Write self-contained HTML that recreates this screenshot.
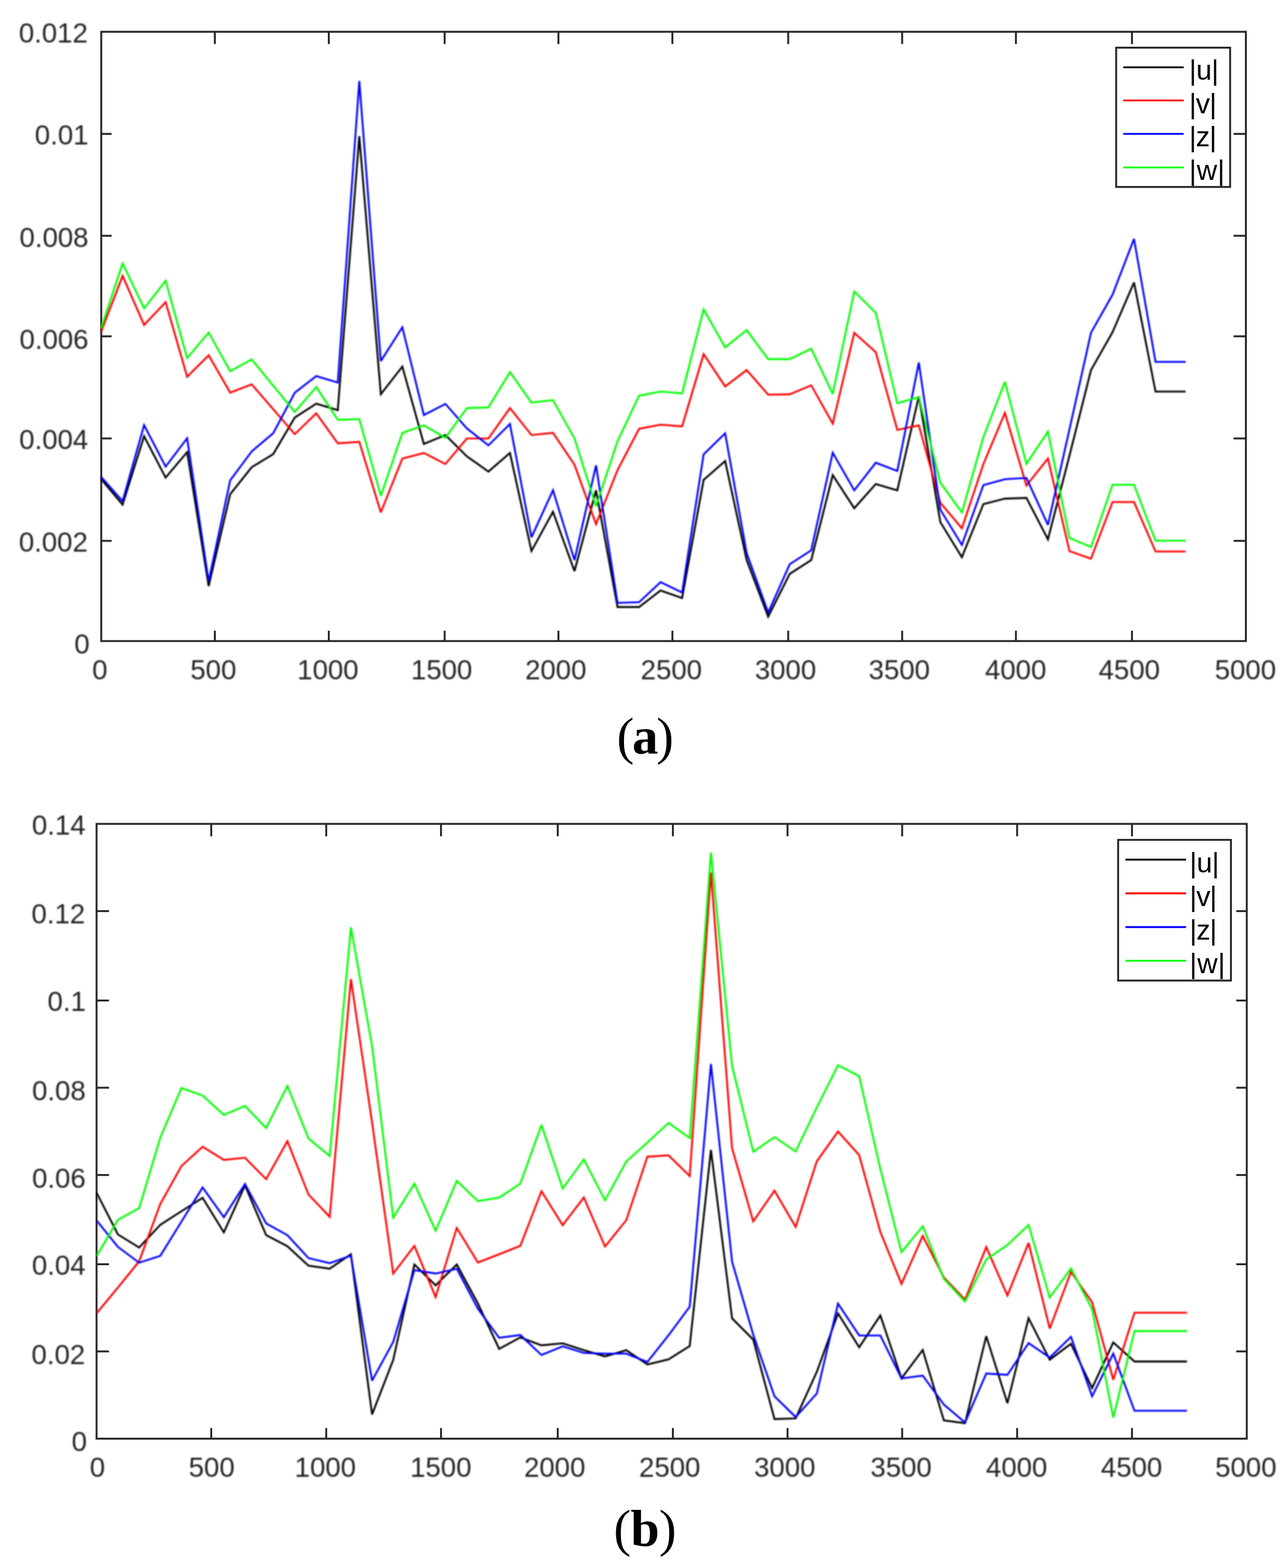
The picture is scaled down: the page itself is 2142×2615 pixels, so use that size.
<!DOCTYPE html>
<html lang="en">
<head>
<meta charset="utf-8">
<title>Figure</title>
<style>
html,body{margin:0;padding:0;background:#fff;}
body{width:2142px;height:2615px;overflow:hidden;}
svg{display:block;}
.tk{font-family:"Liberation Sans",Arial,Helvetica,sans-serif;font-size:46.0px;fill:#262626;}
.lg{font-family:"Liberation Sans",Arial,Helvetica,sans-serif;font-size:47px;fill:#000;}
.cap{font-family:"Liberation Serif","Times New Roman",serif;font-size:86.5px;letter-spacing:-3.1px;fill:#000;}
.cap .b{font-weight:bold;}
</style>
</head>
<body>
<svg width="2142" height="2615" viewBox="0 0 2142 2615">
<defs><filter id="soft" x="0" y="0" width="2142" height="2615" filterUnits="userSpaceOnUse" color-interpolation-filters="sRGB"><feGaussianBlur stdDeviation="1.0"/></filter></defs>
<rect x="0" y="0" width="2142" height="2615" fill="#fff"/>
<g class="ch">
<rect x="168.9" y="53.0" width="1909.5" height="1016.1" fill="none" stroke="#262626" stroke-width="3.2"/>
<line x1="358.4" y1="1069.1" x2="358.4" y2="1051.8" stroke="#262626" stroke-width="3.2"/>
<line x1="358.4" y1="53.0" x2="358.4" y2="73.5" stroke="#262626" stroke-width="3.2"/>
<line x1="548.5" y1="1069.1" x2="548.5" y2="1051.8" stroke="#262626" stroke-width="3.2"/>
<line x1="548.5" y1="53.0" x2="548.5" y2="73.5" stroke="#262626" stroke-width="3.2"/>
<line x1="741.8" y1="1069.1" x2="741.8" y2="1051.8" stroke="#262626" stroke-width="3.2"/>
<line x1="741.8" y1="53.0" x2="741.8" y2="73.5" stroke="#262626" stroke-width="3.2"/>
<line x1="931.6" y1="1069.1" x2="931.6" y2="1051.8" stroke="#262626" stroke-width="3.2"/>
<line x1="931.6" y1="53.0" x2="931.6" y2="73.5" stroke="#262626" stroke-width="3.2"/>
<line x1="1121.7" y1="1069.1" x2="1121.7" y2="1051.8" stroke="#262626" stroke-width="3.2"/>
<line x1="1121.7" y1="53.0" x2="1121.7" y2="73.5" stroke="#262626" stroke-width="3.2"/>
<line x1="1314.9" y1="1069.1" x2="1314.9" y2="1051.8" stroke="#262626" stroke-width="3.2"/>
<line x1="1314.9" y1="53.0" x2="1314.9" y2="73.5" stroke="#262626" stroke-width="3.2"/>
<line x1="1505.0" y1="1069.1" x2="1505.0" y2="1051.8" stroke="#262626" stroke-width="3.2"/>
<line x1="1505.0" y1="53.0" x2="1505.0" y2="73.5" stroke="#262626" stroke-width="3.2"/>
<line x1="1694.8" y1="1069.1" x2="1694.8" y2="1051.8" stroke="#262626" stroke-width="3.2"/>
<line x1="1694.8" y1="53.0" x2="1694.8" y2="73.5" stroke="#262626" stroke-width="3.2"/>
<line x1="1888.4" y1="1069.1" x2="1888.4" y2="1051.8" stroke="#262626" stroke-width="3.2"/>
<line x1="1888.4" y1="53.0" x2="1888.4" y2="73.5" stroke="#262626" stroke-width="3.2"/>
<line x1="168.9" y1="902.0" x2="186.20000000000002" y2="902.0" stroke="#262626" stroke-width="3.2"/>
<line x1="2078.4" y1="902.0" x2="2057.9" y2="902.0" stroke="#262626" stroke-width="3.2"/>
<line x1="168.9" y1="731.2" x2="186.20000000000002" y2="731.2" stroke="#262626" stroke-width="3.2"/>
<line x1="2078.4" y1="731.2" x2="2057.9" y2="731.2" stroke="#262626" stroke-width="3.2"/>
<line x1="168.9" y1="560.9" x2="186.20000000000002" y2="560.9" stroke="#262626" stroke-width="3.2"/>
<line x1="2078.4" y1="560.9" x2="2057.9" y2="560.9" stroke="#262626" stroke-width="3.2"/>
<line x1="168.9" y1="393.2" x2="186.20000000000002" y2="393.2" stroke="#262626" stroke-width="3.2"/>
<line x1="2078.4" y1="393.2" x2="2057.9" y2="393.2" stroke="#262626" stroke-width="3.2"/>
<line x1="168.9" y1="223.3" x2="186.20000000000002" y2="223.3" stroke="#262626" stroke-width="3.2"/>
<line x1="2078.4" y1="223.3" x2="2057.9" y2="223.3" stroke="#262626" stroke-width="3.2"/>
<g class="series" filter="url(#soft)">
<polyline points="168.6,798.9 204.5,841.5 240.4,727.5 276.3,796.6 312.2,754.0 348.1,977.5 384.0,824.2 419.9,779.3 455.8,757.4 491.7,696.4 527.6,673.3 563.5,684.0 599.4,227.1 635.3,657.5 671.2,611.4 707.1,740.5 743.0,725.5 778.9,761.0 814.8,786.5 850.7,755.4 886.6,919.0 922.5,853.4 958.4,952.5 994.3,817.7 1030.2,1012.4 1066.1,1012.4 1102.0,984.7 1137.9,997.4 1173.8,800.4 1209.7,768.8 1245.6,934.0 1281.5,1028.5 1317.4,957.1 1353.3,934.0 1389.2,792.4 1425.1,847.6 1461.0,807.3 1496.9,817.7 1532.8,661.0 1568.7,870.7 1604.6,929.4 1640.5,840.7 1676.4,831.6 1712.3,830.4 1748.2,899.5 1784.1,760.0 1820.0,617.3 1855.9,554.0 1891.8,471.0 1927.7,653.0 1977.9,653.0" fill="none" stroke="#000" stroke-width="3.1" stroke-linejoin="miter" stroke-miterlimit="3" stroke-linecap="butt"/>
<polyline points="168.6,553.5 204.5,460.1 240.4,541.9 276.3,503.9 312.2,628.3 348.1,592.6 384.0,654.8 419.9,641.0 455.8,682.5 491.7,724.0 527.6,689.4 563.5,739.3 599.4,737.0 635.3,854.5 671.2,764.7 707.1,755.4 743.0,773.9 778.9,731.2 814.8,731.2 850.7,680.6 886.6,725.5 922.5,722.0 958.4,775.1 994.3,874.1 1030.2,784.0 1066.1,715.2 1102.0,708.2 1137.9,711.0 1173.8,590.7 1209.7,644.4 1245.6,617.2 1281.5,658.2 1317.4,657.6 1353.3,642.6 1389.2,706.5 1425.1,555.1 1461.0,587.4 1496.9,717.0 1532.8,709.4 1568.7,838.4 1604.6,881.1 1640.5,774.0 1676.4,688.7 1712.3,809.7 1748.2,764.7 1784.1,919.1 1820.0,931.8 1855.9,837.3 1891.8,837.3 1927.7,919.8 1977.9,919.8" fill="none" stroke="#f00" stroke-width="3.1" stroke-linejoin="miter" stroke-miterlimit="3" stroke-linecap="butt"/>
<polyline points="168.6,795.4 204.5,835.8 240.4,709.0 276.3,778.2 312.2,730.9 348.1,969.4 384.0,801.2 419.9,752.8 455.8,722.5 491.7,654.9 527.6,627.2 563.5,637.9 599.4,135.0 635.3,602.2 671.2,546.0 707.1,692.1 743.0,673.6 778.9,714.5 814.8,742.8 850.7,707.1 886.6,896.0 922.5,817.6 958.4,934.1 994.3,776.2 1030.2,1005.5 1066.1,1004.3 1102.0,970.9 1137.9,988.2 1173.8,757.8 1209.7,722.7 1245.6,922.5 1281.5,1021.6 1317.4,941.0 1353.3,917.9 1389.2,755.0 1425.1,817.7 1461.0,771.7 1496.9,785.4 1532.8,604.6 1568.7,850.0 1604.6,908.7 1640.5,809.0 1676.4,799.3 1712.3,797.0 1748.2,875.3 1784.1,716.0 1820.0,555.1 1855.9,491.5 1891.8,398.4 1927.7,603.5 1977.9,603.5" fill="none" stroke="#00f" stroke-width="3.1" stroke-linejoin="miter" stroke-miterlimit="3" stroke-linecap="butt"/>
<polyline points="168.6,547.7 204.5,439.4 240.4,514.3 276.3,468.2 312.2,597.2 348.1,554.6 384.0,619.1 419.9,599.5 455.8,643.3 491.7,687.1 527.6,645.6 563.5,700.1 599.4,699.0 635.3,826.9 671.2,722.0 707.1,709.4 743.0,730.1 778.9,680.6 814.8,679.4 850.7,620.6 886.6,671.3 922.5,667.3 958.4,731.3 994.3,844.2 1030.2,735.9 1066.1,659.9 1102.0,653.0 1137.9,656.0 1173.8,515.9 1209.7,579.3 1245.6,550.5 1281.5,598.9 1317.4,598.9 1353.3,581.5 1389.2,657.0 1425.1,486.0 1461.0,521.7 1496.9,672.6 1532.8,662.2 1568.7,805.0 1604.6,854.6 1640.5,729.0 1676.4,636.9 1712.3,773.5 1748.2,719.8 1784.1,897.2 1820.0,912.2 1855.9,808.5 1891.8,808.5 1927.7,901.8 1977.9,901.8" fill="none" stroke="#0f0" stroke-width="3.1" stroke-linejoin="miter" stroke-miterlimit="3" stroke-linecap="butt"/>
</g>
<g class="ticks" filter="url(#soft)">
<text class="tk" x="153.85" y="1132.65" text-anchor="start">0</text>
<text class="tk" x="317.50" y="1132.65" text-anchor="start">500</text>
<text class="tk" x="495.80" y="1132.65" text-anchor="start">1000</text>
<text class="tk" x="685.60" y="1132.65" text-anchor="start">1500</text>
<text class="tk" x="875.90" y="1132.65" text-anchor="start">2000</text>
<text class="tk" x="1068.80" y="1132.65" text-anchor="start">2500</text>
<text class="tk" x="1259.20" y="1132.65" text-anchor="start">3000</text>
<text class="tk" x="1449.10" y="1132.65" text-anchor="start">3500</text>
<text class="tk" x="1643.20" y="1132.65" text-anchor="start">4000</text>
<text class="tk" x="1832.75" y="1132.65" text-anchor="start">4500</text>
<text class="tk" x="2026.45" y="1132.65" text-anchor="start">5000</text>
<text class="tk" x="123.95" y="1089.70" text-anchor="start">0</text>
<text class="tk" x="31.40" y="919.55" text-anchor="start">0.002</text>
<text class="tk" x="32.05" y="749.05" text-anchor="start">0.004</text>
<text class="tk" x="32.55" y="582.20" text-anchor="start">0.006</text>
<text class="tk" x="32.55" y="412.15" text-anchor="start">0.008</text>
<text class="tk" x="58.10" y="240.75" text-anchor="start">0.01</text>
<text class="tk" x="31.40" y="71.10" text-anchor="start">0.012</text>
</g>
<rect x="1862" y="79.5" width="190.1" height="232.3" fill="#fff" stroke="#262626" stroke-width="3.2"/>
<line x1="1873.8" y1="112.2" x2="1974.7" y2="112.2" stroke="#000" stroke-width="3.1"/>
<text class="lg" x="1983.8" y="133.2" textLength="49.5" lengthAdjust="spacing">|u|</text>
<line x1="1873.8" y1="167.5" x2="1974.7" y2="167.5" stroke="#f00" stroke-width="3.1"/>
<text class="lg" x="1983.8" y="188.5" textLength="45.8" lengthAdjust="spacing">|v|</text>
<line x1="1873.8" y1="223.3" x2="1974.7" y2="223.3" stroke="#00f" stroke-width="3.1"/>
<text class="lg" x="1983.8" y="244.3" textLength="45.8" lengthAdjust="spacing">|z|</text>
<line x1="1873.8" y1="279.3" x2="1974.7" y2="279.3" stroke="#0f0" stroke-width="3.1"/>
<text class="lg" x="1983.8" y="300.3" textLength="59.4" lengthAdjust="spacing">|w|</text>
</g>
<text class="cap" x="1074.8" y="1257.2" text-anchor="middle">(<tspan class="b">a</tspan>)</text>
<g class="ch">
<rect x="161.1" y="1374.0" width="1918.8" height="1025.3" fill="none" stroke="#262626" stroke-width="3.2"/>
<line x1="352.4" y1="2399.3" x2="352.4" y2="2381.6000000000004" stroke="#262626" stroke-width="3.2"/>
<line x1="352.4" y1="1374.0" x2="352.4" y2="1394.7" stroke="#262626" stroke-width="3.2"/>
<line x1="544.2" y1="2399.3" x2="544.2" y2="2381.6000000000004" stroke="#262626" stroke-width="3.2"/>
<line x1="544.2" y1="1374.0" x2="544.2" y2="1394.7" stroke="#262626" stroke-width="3.2"/>
<line x1="735.7" y1="2399.3" x2="735.7" y2="2381.6000000000004" stroke="#262626" stroke-width="3.2"/>
<line x1="735.7" y1="1374.0" x2="735.7" y2="1394.7" stroke="#262626" stroke-width="3.2"/>
<line x1="930.4" y1="2399.3" x2="930.4" y2="2381.6000000000004" stroke="#262626" stroke-width="3.2"/>
<line x1="930.4" y1="1374.0" x2="930.4" y2="1394.7" stroke="#262626" stroke-width="3.2"/>
<line x1="1122.5" y1="2399.3" x2="1122.5" y2="2381.6000000000004" stroke="#262626" stroke-width="3.2"/>
<line x1="1122.5" y1="1374.0" x2="1122.5" y2="1394.7" stroke="#262626" stroke-width="3.2"/>
<line x1="1313.8" y1="2399.3" x2="1313.8" y2="2381.6000000000004" stroke="#262626" stroke-width="3.2"/>
<line x1="1313.8" y1="1374.0" x2="1313.8" y2="1394.7" stroke="#262626" stroke-width="3.2"/>
<line x1="1505.0" y1="2399.3" x2="1505.0" y2="2381.6000000000004" stroke="#262626" stroke-width="3.2"/>
<line x1="1505.0" y1="1374.0" x2="1505.0" y2="1394.7" stroke="#262626" stroke-width="3.2"/>
<line x1="1696.8" y1="2399.3" x2="1696.8" y2="2381.6000000000004" stroke="#262626" stroke-width="3.2"/>
<line x1="1696.8" y1="1374.0" x2="1696.8" y2="1394.7" stroke="#262626" stroke-width="3.2"/>
<line x1="1888.4" y1="2399.3" x2="1888.4" y2="2381.6000000000004" stroke="#262626" stroke-width="3.2"/>
<line x1="1888.4" y1="1374.0" x2="1888.4" y2="1394.7" stroke="#262626" stroke-width="3.2"/>
<line x1="161.1" y1="2253.8" x2="181.79999999999998" y2="2253.8" stroke="#262626" stroke-width="3.2"/>
<line x1="2079.9" y1="2253.8" x2="2062.4" y2="2253.8" stroke="#262626" stroke-width="3.2"/>
<line x1="161.1" y1="2108.4" x2="181.79999999999998" y2="2108.4" stroke="#262626" stroke-width="3.2"/>
<line x1="2079.9" y1="2108.4" x2="2062.4" y2="2108.4" stroke="#262626" stroke-width="3.2"/>
<line x1="161.1" y1="1959.6" x2="181.79999999999998" y2="1959.6" stroke="#262626" stroke-width="3.2"/>
<line x1="2079.9" y1="1959.6" x2="2062.4" y2="1959.6" stroke="#262626" stroke-width="3.2"/>
<line x1="161.1" y1="1814.0" x2="181.79999999999998" y2="1814.0" stroke="#262626" stroke-width="3.2"/>
<line x1="2079.9" y1="1814.0" x2="2062.4" y2="1814.0" stroke="#262626" stroke-width="3.2"/>
<line x1="161.1" y1="1668.6" x2="181.79999999999998" y2="1668.6" stroke="#262626" stroke-width="3.2"/>
<line x1="2079.9" y1="1668.6" x2="2062.4" y2="1668.6" stroke="#262626" stroke-width="3.2"/>
<line x1="161.1" y1="1519.5" x2="181.79999999999998" y2="1519.5" stroke="#262626" stroke-width="3.2"/>
<line x1="2079.9" y1="1519.5" x2="2062.4" y2="1519.5" stroke="#262626" stroke-width="3.2"/>
<g class="series" filter="url(#soft)">
<polyline points="161.4,1989.6 196.7,2058.7 232.1,2080.6 267.4,2042.6 302.7,2020.0 338.0,1997.6 373.4,2055.3 408.7,1976.9 444.0,2059.9 479.4,2078.3 514.7,2110.9 550.0,2115.9 585.4,2091.7 620.7,2358.9 656.0,2267.9 691.3,2108.9 726.7,2143.5 762.0,2108.9 797.3,2174.0 832.7,2249.5 868.0,2230.5 903.3,2243.6 938.7,2240.2 974.0,2251.7 1009.3,2262.1 1044.7,2251.7 1080.0,2275.5 1115.3,2267.0 1150.6,2244.8 1186.0,1917.6 1221.3,2198.7 1256.6,2234.1 1292.0,2366.6 1327.3,2365.5 1362.6,2288.0 1398.0,2190.4 1433.3,2246.8 1468.6,2193.8 1503.9,2298.7 1539.3,2251.4 1574.6,2368.9 1609.9,2373.5 1645.3,2228.4 1680.6,2340.1 1715.9,2198.4 1751.2,2267.6 1786.6,2241.1 1821.9,2314.8 1857.2,2238.8 1892.6,2270.6 1980.2,2270.6" fill="none" stroke="#000" stroke-width="3.1" stroke-linejoin="miter" stroke-miterlimit="3" stroke-linecap="butt"/>
<polyline points="161.4,2190.0 196.7,2147.2 232.1,2103.6 267.4,2008.0 302.7,1944.7 338.0,1912.4 373.4,1934.3 408.7,1930.8 444.0,1966.5 479.4,1903.2 514.7,1992.2 550.0,2029.4 585.4,1632.9 620.7,1872.0 656.0,2123.9 691.3,2077.8 726.7,2163.1 762.0,2047.9 797.3,2105.5 832.7,2091.7 868.0,2077.8 903.3,1986.7 938.7,2043.2 974.0,1997.1 1009.3,2078.9 1044.7,2035.1 1080.0,1929.1 1115.3,1926.8 1150.6,1961.4 1186.0,1455.0 1221.3,1915.3 1256.6,2037.0 1292.0,1985.7 1327.3,2046.2 1362.6,1936.8 1398.0,1887.1 1433.3,1926.5 1468.6,2054.5 1503.9,2141.2 1539.3,2061.2 1574.6,2130.5 1609.9,2167.3 1645.3,2079.8 1680.6,2160.4 1715.9,2072.9 1751.2,2215.7 1786.6,2121.2 1821.9,2171.9 1857.2,2301.0 1892.6,2189.2 1980.2,2189.2" fill="none" stroke="#f00" stroke-width="3.1" stroke-linejoin="miter" stroke-miterlimit="3" stroke-linecap="butt"/>
<polyline points="161.4,2035.7 196.7,2079.4 232.1,2105.9 267.4,2094.4 302.7,2037.3 338.0,1980.4 373.4,2029.9 408.7,1974.6 444.0,2040.3 479.4,2059.9 514.7,2098.2 550.0,2106.6 585.4,2094.0 620.7,2302.5 656.0,2238.0 691.3,2118.2 726.7,2123.9 762.0,2115.9 797.3,2182.7 832.7,2231.1 868.0,2226.5 903.3,2259.8 938.7,2245.3 974.0,2256.3 1009.3,2257.5 1044.7,2257.5 1080.0,2271.5 1115.3,2226.8 1150.6,2179.1 1186.0,1774.4 1221.3,2104.2 1256.6,2226.0 1292.0,2328.6 1327.3,2363.2 1362.6,2324.0 1398.0,2174.2 1433.3,2227.2 1468.6,2227.2 1503.9,2298.7 1539.3,2294.1 1574.6,2342.4 1609.9,2372.4 1645.3,2290.6 1680.6,2292.9 1715.9,2239.9 1751.2,2264.1 1786.6,2229.5 1821.9,2328.6 1857.2,2257.5 1892.6,2352.8 1980.2,2352.8" fill="none" stroke="#00f" stroke-width="3.1" stroke-linejoin="miter" stroke-miterlimit="3" stroke-linecap="butt"/>
<polyline points="161.4,2094.4 196.7,2034.5 232.1,2014.9 267.4,1897.4 302.7,1814.5 338.0,1827.1 373.4,1859.4 408.7,1844.4 444.0,1881.3 479.4,1811.0 514.7,1898.8 550.0,1928.0 585.4,1546.5 620.7,1744.7 656.0,2030.6 691.3,1974.1 726.7,2052.5 762.0,1969.5 797.3,2003.0 832.7,1997.2 868.0,1974.1 903.3,1876.1 938.7,1982.1 974.0,1933.7 1009.3,2001.7 1044.7,1937.2 1080.0,1905.4 1115.3,1872.7 1150.6,1898.0 1186.0,1421.9 1221.3,1777.9 1256.6,1920.8 1292.0,1896.3 1327.3,1920.5 1362.6,1846.8 1398.0,1776.5 1433.3,1794.9 1468.6,1949.5 1503.9,2088.3 1539.3,2045.0 1574.6,2132.8 1609.9,2170.6 1645.3,2100.5 1680.6,2076.3 1715.9,2042.9 1751.2,2163.9 1786.6,2115.5 1821.9,2183.5 1857.2,2364.3 1892.6,2219.9 1980.2,2219.9" fill="none" stroke="#0f0" stroke-width="3.1" stroke-linejoin="miter" stroke-miterlimit="3" stroke-linecap="butt"/>
</g>
<g class="ticks" filter="url(#soft)">
<text class="tk" x="149.65" y="2462.90" text-anchor="start">0</text>
<text class="tk" x="314.75" y="2462.90" text-anchor="start">500</text>
<text class="tk" x="491.60" y="2462.90" text-anchor="start">1000</text>
<text class="tk" x="684.20" y="2462.90" text-anchor="start">1500</text>
<text class="tk" x="874.15" y="2462.90" text-anchor="start">2000</text>
<text class="tk" x="1066.10" y="2462.90" text-anchor="start">2500</text>
<text class="tk" x="1258.00" y="2462.90" text-anchor="start">3000</text>
<text class="tk" x="1452.10" y="2462.90" text-anchor="start">3500</text>
<text class="tk" x="1644.80" y="2462.90" text-anchor="start">4000</text>
<text class="tk" x="1836.55" y="2462.90" text-anchor="start">4500</text>
<text class="tk" x="2027.20" y="2462.90" text-anchor="start">5000</text>
<text class="tk" x="119.60" y="2420.35" text-anchor="start">0</text>
<text class="tk" x="52.55" y="2274.90" text-anchor="start">0.02</text>
<text class="tk" x="53.20" y="2125.80" text-anchor="start">0.04</text>
<text class="tk" x="53.45" y="1980.60" text-anchor="start">0.06</text>
<text class="tk" x="53.45" y="1835.00" text-anchor="start">0.08</text>
<text class="tk" x="79.30" y="1685.60" text-anchor="start">0.1</text>
<text class="tk" x="52.55" y="1540.40" text-anchor="start">0.12</text>
<text class="tk" x="53.20" y="1391.80" text-anchor="start">0.14</text>
</g>
<rect x="1865.3" y="1400.7" width="188.2" height="234.6" fill="#fff" stroke="#262626" stroke-width="3.2"/>
<line x1="1877.5" y1="1433.6" x2="1978.6" y2="1433.6" stroke="#000" stroke-width="3.1"/>
<text class="lg" x="1984.5" y="1454.6" textLength="49.5" lengthAdjust="spacing">|u|</text>
<line x1="1877.5" y1="1489.9" x2="1978.6" y2="1489.9" stroke="#f00" stroke-width="3.1"/>
<text class="lg" x="1984.5" y="1510.9" textLength="45.8" lengthAdjust="spacing">|v|</text>
<line x1="1877.5" y1="1546.1" x2="1978.6" y2="1546.1" stroke="#00f" stroke-width="3.1"/>
<text class="lg" x="1984.5" y="1567.1" textLength="45.8" lengthAdjust="spacing">|z|</text>
<line x1="1877.5" y1="1602.3" x2="1978.6" y2="1602.3" stroke="#0f0" stroke-width="3.1"/>
<text class="lg" x="1984.5" y="1623.3" textLength="59.4" lengthAdjust="spacing">|w|</text>
</g>
<text class="cap" style="letter-spacing:-0.65px" x="1075.7" y="2578" text-anchor="middle">(<tspan class="b">b</tspan>)</text>
</svg>
</body>
</html>
